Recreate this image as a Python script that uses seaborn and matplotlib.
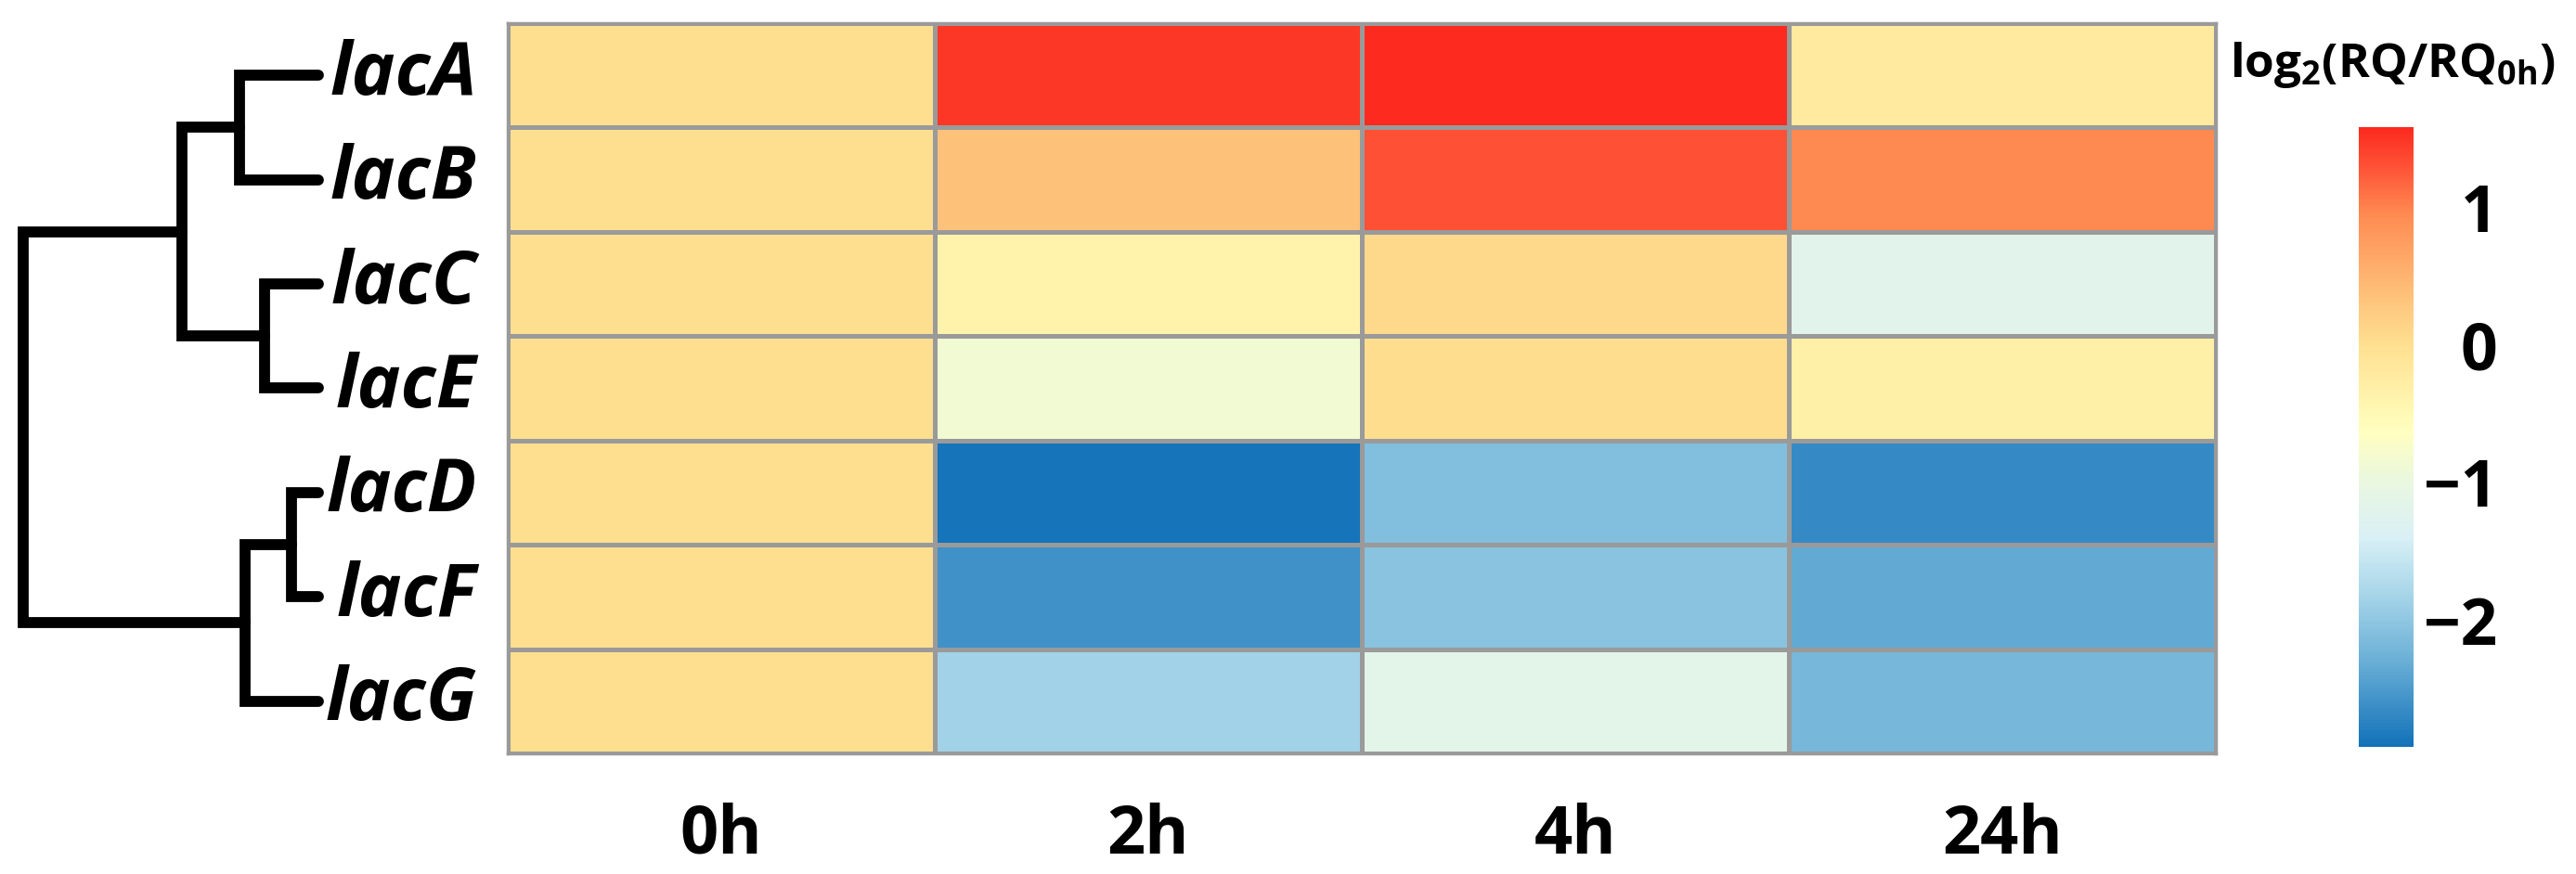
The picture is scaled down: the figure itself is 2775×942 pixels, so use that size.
import numpy as np
import pandas as pd
import matplotlib
matplotlib.use("Agg")
import matplotlib.pyplot as plt
from matplotlib.colors import LinearSegmentedColormap
import seaborn as sns

# data
genes = ["lacA", "lacB", "lacC", "lacE", "lacD", "lacF", "lacG"]
times = ["0h", "2h", "4h", "24h"]
t0h = [0, 0, 0, 0, 0, 0, 0]
t2h = [1.48, 0.35, -0.38, -0.85, -2.9, -2.6, -1.85]
t4h = [1.58, 1.3, 0.07, 0.02, -2.1, -2.05, -1.15]
t24h = [-0.2, 0.95, -1.2, -0.33, -2.67, -2.35, -2.19]

# dendrogram merges (child a, child b, height), ids >= 7 are earlier merges
merges = [(0, 1, 225), (2, 3, 153), (4, 5, 77), (7, 8, 392), (9, 6, 210), (10, 11, 845)]

vmin, vmax = -2.92, 1.58
stops = [(-2.92, "#1272b9"), (-2.3, "#6aafd6"), (-1.85, "#a3d3e7"), (-1.4, "#d9f0f6"),
         (-1.0, "#eaf7e0"), (-0.625, "#ffffbf"), (-0.3, "#ffefa6"), (0, "#fee090"),
         (0.35, "#fec27b"), (0.95, "#fe8b52"), (1.3, "#fe5236"), (1.58, "#fc2a1f")]
cmap = LinearSegmentedColormap.from_list(
    "rq", [((v - vmin) / (vmax - vmin), c) for v, c in stops])

df = pd.DataFrame({"0h": t0h, "2h": t2h, "4h": t4h, "24h": t24h}, index=genes)

plt.rcParams['font.family'] = ['Open Sans', 'DejaVu Sans']
plt.rcParams['mathtext.fontset'] = 'custom'
plt.rcParams['mathtext.rm'] = 'Open Sans'
plt.rcParams['mathtext.bf'] = 'Open Sans:bold'

W, H = 2775, 942
fig = plt.figure(figsize=(W / 100, H / 100), dpi=100)

def box(x0, y0, x1, y1):
    return [x0 / W, 1 - y1 / H, (x1 - x0) / W, (y1 - y0) / H]

ax = fig.add_axes(box(547, 25, 2387, 812))
cax = fig.add_axes(box(2541, 137, 2600, 805))
dax = fig.add_axes(box(10, 25, 343, 812))

sns.heatmap(df, ax=ax, cmap=cmap, vmin=vmin, vmax=vmax, linewidths=2.2,
            linecolor="#9a9a9a", cbar_ax=cax, cbar_kws={"ticks": [1, 0, -1, -2]})

for s in ax.spines.values():
    s.set_visible(True)
    s.set_color("#9a9a9a")
    s.set_linewidth(2.5)

ax.tick_params(axis="both", length=0)
ax.tick_params(axis="x", pad=38)
ax.tick_params(axis="y", pad=24)
ax.set_xticklabels(times, fontsize=52, fontweight="bold")
ax.set_yticklabels(genes, fontsize=57, fontweight="bold", fontstyle="italic",
                   rotation=0, ha="right")
ax.set_xlabel("")
ax.set_ylabel("")

cb = ax.collections[0].colorbar
cb.outline.set_visible(False)
cax.tick_params(length=0, pad=65)
cax.set_yticklabels(["1", "0", "\u22121", "\u22122"], fontsize=50, fontweight="bold", ha="right")

fig.text(2577 / W, 1 - 70 / H, r"$\mathbf{log_2(RQ/RQ_{0h})}$", fontsize=37,
         ha="center", va="center")

# dendrogram
pos = {i: (0.0, i + 0.5) for i in range(len(genes))}
for k, (a, b, h) in enumerate(merges):
    xa, ya = pos[a]
    xb, yb = pos[b]
    dax.plot([xa, h, h, xb], [ya, ya, yb, yb], color="black", lw=8.5,
             solid_joinstyle="miter", solid_capstyle="round", clip_on=False)
    pos[len(genes) + k] = (h, (ya + yb) / 2)

dax.set_xlim(885, 0)
dax.set_ylim(len(genes), 0)
dax.axis("off")

fig.savefig("out.png", dpi=100)
